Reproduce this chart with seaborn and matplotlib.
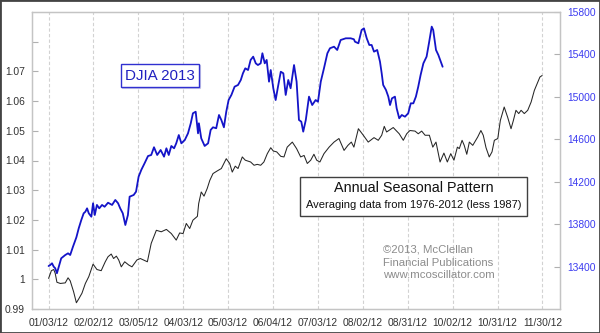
import matplotlib
matplotlib.use("Agg")
import matplotlib.pyplot as plt
from matplotlib.patches import Rectangle
import seaborn as sns
import pandas as pd

# ---------------- data ----------------
tick_labels = ["01/03/12", "02/02/12", "03/05/12", "04/03/12", "05/03/12", "06/04/12",
               "07/03/12", "08/02/12", "08/31/12", "10/02/12", "10/31/12", "11/30/12"]
tick_days = [0, 21, 42, 63, 84, 105, 126, 147, 168, 189, 210, 231]

seasonal_day = [0, 1.3, 2.4, 3.1, 3.9, 5.5, 7.8, 9.1, 10.1, 11.7,
                13.0, 14.1, 15.6, 17.2, 18.8, 20.8, 22.6, 24.6, 26.5, 27.8,
                29.3, 30.4, 31.7, 32.8, 34.0, 35.6, 37.5, 39.0, 41.3, 42.9,
                46.2, 48.0, 50.4, 52.7, 55.1, 57.4, 59.7, 61.3, 62.9, 64.4,
                66.0, 67.5, 69.6, 70.2, 71.4, 72.7, 74.2, 75.4, 76.9, 78.9,
                80.8, 83.1, 84.7, 85.9, 87.3, 88.6, 90.6, 92.0, 94.5, 96.1,
                97.6, 99.2, 100.7, 102.3, 103.9, 105.1, 106.7, 108.6, 110.1, 111.6,
                114.0, 116.0, 117.9, 119.5, 121.0, 122.6, 124.1, 125.4, 126.9, 128.8,
                131.2, 133.5, 135.8, 138.2, 140.0, 141.6, 142.8, 144.9, 147.2, 149.5,
                152.2, 154.2, 155.8, 157.0, 158.1, 161.2, 164.0, 165.9, 167.5, 169.0,
                171.4, 172.9, 174.5, 176.1, 178.1, 179.7, 181.2, 183.1, 184.9, 186.5,
                188.1, 189.6, 191.2, 192.1, 193.4, 194.4, 195.6, 196.8, 198.4, 200.7,
                202.2, 203.3, 204.6, 206.1, 207.4, 208.5, 210.1, 211.3, 213.1, 214.7,
                216.3, 217.4, 218.6, 219.9, 221.0, 222.5, 224.1, 225.7, 227.2, 228.8,
                229.8, 230.8]
seasonal_value = [1.0003, 1.0029, 1.0033, 1.0020, 0.9990, 0.9986, 0.9988, 1.0005, 0.9995, 0.9958,
                  0.9921, 0.9934, 0.9953, 0.9986, 1.0009, 1.0051, 1.0033, 1.0029, 1.0059, 1.0076,
                  1.0085, 1.0070, 1.0078, 1.0065, 1.0042, 1.0059, 1.0048, 1.0042, 1.0065, 1.0070,
                  1.0059, 1.0121, 1.0165, 1.0160, 1.0168, 1.0154, 1.0132, 1.0156, 1.0154, 1.0188,
                  1.0171, 1.0199, 1.0212, 1.0255, 1.0294, 1.0280, 1.0306, 1.0333, 1.0356, 1.0365,
                  1.0373, 1.0406, 1.0390, 1.0361, 1.0381, 1.0373, 1.0412, 1.0401, 1.0395, 1.0384,
                  1.0387, 1.0384, 1.0395, 1.0423, 1.0443, 1.0432, 1.0429, 1.0414, 1.0412, 1.0445,
                  1.0462, 1.0440, 1.0412, 1.0417, 1.0390, 1.0401, 1.0421, 1.0401, 1.0395, 1.0423,
                  1.0445, 1.0462, 1.0474, 1.0434, 1.0451, 1.0462, 1.0445, 1.0507, 1.0485, 1.0462,
                  1.0477, 1.0468, 1.0485, 1.0515, 1.0496, 1.0511, 1.0490, 1.0468, 1.0490, 1.0501,
                  1.0499, 1.0490, 1.0499, 1.0485, 1.0485, 1.0445, 1.0462, 1.0395, 1.0425, 1.0395,
                  1.0423, 1.0401, 1.0445, 1.0440, 1.0468, 1.0451, 1.0421, 1.0462, 1.0451, 1.0479,
                  1.0501, 1.0485, 1.0443, 1.0412, 1.0429, 1.0468, 1.0474, 1.0535, 1.0580, 1.0546,
                  1.0507, 1.0535, 1.0569, 1.0558, 1.0569, 1.0558, 1.0569, 1.0597, 1.0636, 1.0664,
                  1.0681, 1.0686]

djia_day = [0, 0.8, 1.6, 2.4, 3.1, 3.9, 5.0, 5.9, 7.8, 9.1,
            10.1, 11.4, 13.0, 14.1, 15.3, 16.4, 17.2, 18.0, 18.8, 20.0,
            20.8, 21.6, 22.6, 23.7, 25.0, 26.2, 27.8, 29.7, 31.2, 32.5,
            33.5, 34.7, 35.9, 37.1, 37.9, 39.8, 40.9, 42.1, 43.4, 44.9,
            46.5, 48.0, 49.3, 50.8, 52.4, 54.0, 55.1, 56.2, 57.4, 58.7,
            59.7, 60.9, 62.1, 63.7, 65.2, 66.5, 67.5, 68.8, 69.9, 70.3,
            71.4, 73.0, 74.6, 75.8, 76.9, 78.4, 79.7, 80.8, 82.0, 83.1,
            84.2, 85.5, 87.0, 88.6, 89.9, 90.9, 92.0, 93.3, 94.5, 95.7,
            96.9, 97.9, 99.2, 100.0, 101.1, 102.0, 103.1, 103.9, 105.1, 106.2,
            107.3, 108.6, 109.8, 110.9, 112.1, 113.2, 114.8, 116.0, 117.1, 118.2,
            119.1, 120.3, 121.8, 123.3, 124.9, 126.0, 127.3, 128.8, 130.4, 131.6,
            133.5, 135.0, 136.6, 139.0, 141.3, 142.8, 143.3, 144.9, 146.4, 147.5,
            148.8, 150.0, 151.1, 152.2, 153.7, 155.0, 155.8, 156.5, 157.8, 158.9,
            159.7, 160.6, 162.0, 162.8, 164.0, 165.2, 166.7, 168.2, 169.4, 170.6,
            171.8, 172.9, 174.0, 175.3, 176.8, 177.9, 179.2, 179.9, 181.2, 182.3,
            184.3]
djia_value = [13405, 13415, 13431, 13399, 13384, 13337, 13415, 13478, 13509, 13525,
              13509, 13587, 13676, 13761, 13839, 13902, 13917, 13949, 13902, 13870,
              13997, 13886, 13981, 13949, 13981, 13964, 14002, 13981, 14028, 13997,
              13949, 13902, 13792, 13886, 14059, 14075, 14106, 14247, 14313, 14374,
              14442, 14452, 14525, 14452, 14499, 14436, 14515, 14452, 14537, 14515,
              14562, 14640, 14562, 14593, 14656, 14751, 14845, 14860, 14656, 14751,
              14609, 14537, 14562, 14688, 14713, 14704, 14829, 14782, 14713, 14860,
              14970, 15018, 15096, 15112, 15159, 15222, 15269, 15253, 15348, 15379,
              15316, 15300, 15316, 15411, 15316, 15348, 15143, 15253, 15081, 14970,
              15096, 15237, 15222, 15018, 15159, 15081, 15300, 15143, 14782, 14766,
              14672, 14782, 15002, 14923, 14970, 14954, 15143, 15269, 15411, 15458,
              15473, 15442, 15536, 15552, 15552, 15543, 15520, 15505, 15630, 15646,
              15552, 15489, 15489, 15426, 15442, 15332, 15222, 15112, 15065, 15002,
              14923, 14986, 15002, 14892, 14798, 14829, 14813, 14845, 14939, 14939,
              15002, 15096, 15206, 15316, 15379, 15505, 15662, 15630, 15442, 15395,
              15284]

left_ticks = [0.99, 1.00, 1.01, 1.02, 1.03, 1.04, 1.05, 1.06, 1.07, 1.08]
left_labels = ["0.99", "1", "1.01", "1.02", "1.03", "1.04", "1.05", "1.06", "1.07", ""]
right_ticks = [13400, 13800, 14200, 14600, 15000, 15400, 15800]

# ---------------- style ----------------
sns.set_theme(style="white")
plt.rcParams["font.family"] = ["Liberation Sans", "DejaVu Sans"]

W, H = 600, 333
fig = plt.figure(figsize=(6, 3.33), dpi=100)
fig.patch.set_facecolor("white")


def fx(x):
    return x / W


def fy(y):
    return 1 - y / H


ax = fig.add_axes([fx(32), fy(309), (560 - 32) / W, (309 - 12) / H])
ax2 = ax.twinx()

df_s = pd.DataFrame({"day": seasonal_day, "value": seasonal_value})
df_d = pd.DataFrame({"day": djia_day, "value": djia_value})

sns.lineplot(data=df_s, x="day", y="value", ax=ax, color="#262626", linewidth=0.75)
sns.lineplot(data=df_d, x="day", y="value", ax=ax2, color="#1414c8", linewidth=1.3)

ax.set_xlim(-7.76, 239.2)
ax.set_ylim(0.99, 1.09)
ax2.set_ylim(13000, 15800)

ax.set_xticks(tick_days)
ax.set_xticklabels(tick_labels)
ax.set_yticks(left_ticks)
ax.set_yticklabels(left_labels)
ax2.set_yticks(right_ticks)
ax2.set_yticklabels([str(t) for t in right_ticks])

for a in (ax, ax2):
    a.set_xlabel("")
    a.set_ylabel("")
    for s in a.spines.values():
        s.set_color("#c4c4c4")
        s.set_linewidth(0.9)

ax.xaxis.grid(True, linestyle=(0, (3, 2)), color="#d2d2d2", linewidth=0.8)
ax.yaxis.grid(False)
ax2.grid(False)

ax.tick_params(axis="x", length=0, pad=6.5, labelsize=7.4, labelcolor="#333333")
ax.tick_params(axis="y", direction="in", length=4.5, width=0.8, color="#b0b0b0",
               pad=5, labelsize=7.4, labelcolor="#333333", left=True)
ax2.tick_params(axis="y", direction="in", length=4.5, width=0.8, color="#b0b0b0",
                pad=5, labelsize=7.4, labelcolor="#3c3cf0", right=True)

# ---------------- annotations ----------------
# DJIA 2013 box
fig.add_artist(Rectangle((fx(121.7), fy(88.3)), (78.6) / W, (23.3) / H,
                         transform=fig.transFigure, facecolor="none",
                         edgecolor="#c8c8e8", linewidth=0.8, zorder=9))
fig.add_artist(Rectangle((fx(120.7), fy(87.3)), (78.6) / W, (23.3) / H,
                         transform=fig.transFigure, facecolor="white",
                         edgecolor="#3030d0", linewidth=1.0, zorder=10))
fig.text(fx(160), fy(75.8), "DJIA 2013", ha="center", va="center",
         fontsize=10.9, color="#2020c0", zorder=11)

# Annual Seasonal Pattern box
fig.add_artist(Rectangle((fx(300), fy(215.7)), (227.3) / W, (38.4) / H,
                         transform=fig.transFigure, facecolor="white",
                         edgecolor="#404040", linewidth=1.0, zorder=10))
fig.text(fx(414), fy(188.5), "Annual Seasonal Pattern", ha="center", va="center",
         fontsize=10.4, color="#111111", zorder=11)
fig.text(fx(414), fy(204.5), "Averaging data from 1976-2012 (less 1987)", ha="center",
         va="center", fontsize=8.0, color="#111111", zorder=11)

# copyright
for txt, yy in [("\u00a92013, McClellan", 250), ("Financial Publications", 262.5),
                ("www.mcoscillator.com", 274.5)]:
    fig.text(fx(382.7), fy(yy), txt, ha="left", va="center", fontsize=8.2,
             color="#8c8c8c", zorder=11)

# outer border
fig.add_artist(Rectangle((0, 0), 1, 1, transform=fig.transFigure, facecolor="none",
                         edgecolor="#444444", linewidth=2.0, zorder=20))

fig.savefig("out.png", dpi=100)
